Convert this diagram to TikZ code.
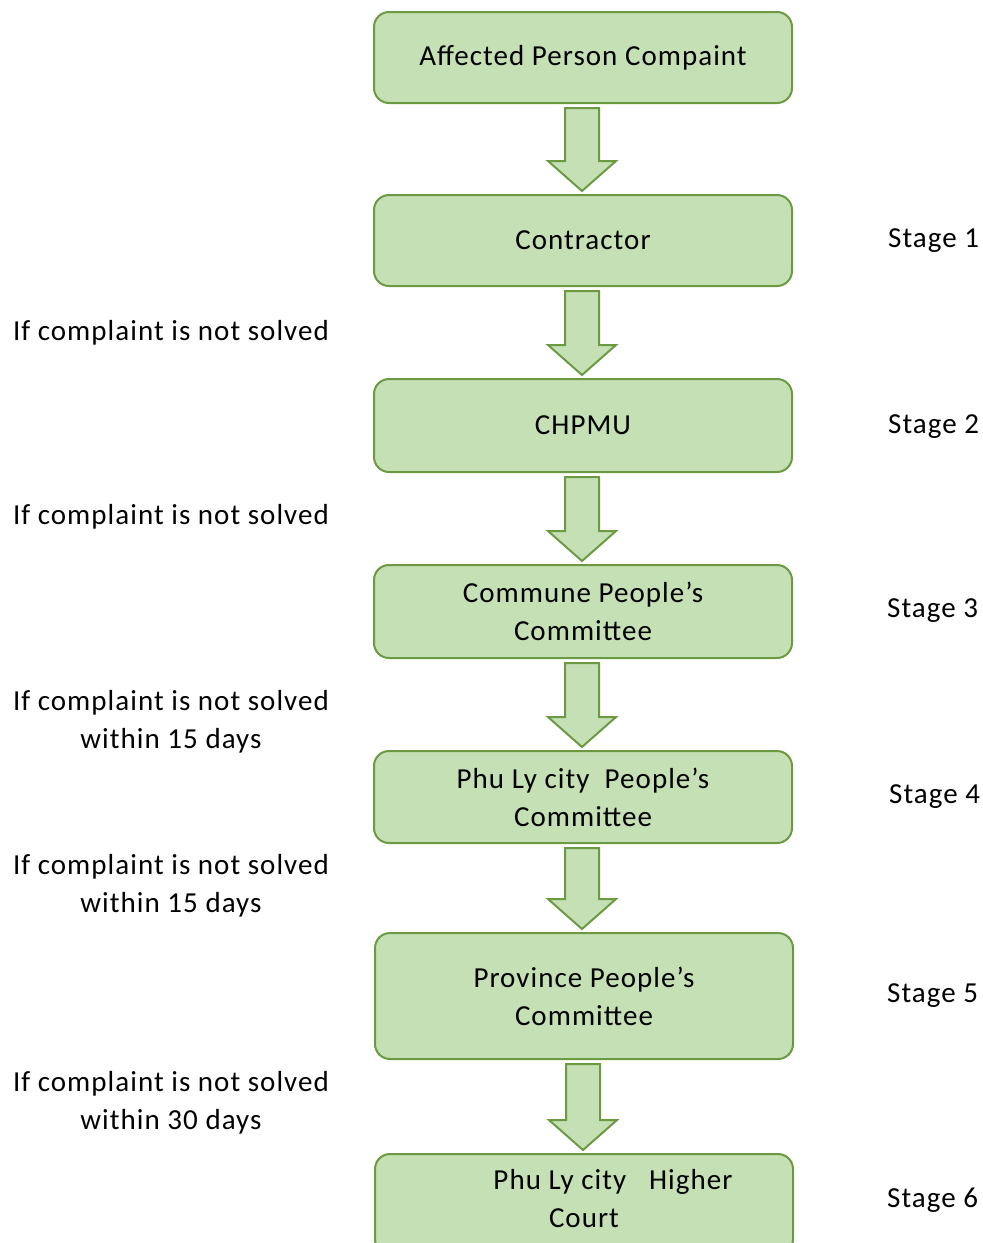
\documentclass[tikz,border=0pt]{standalone}
\usepackage{fontspec}
\setmainfont{Carlito}[LetterSpace=3.6]
\usetikzlibrary{calc}
\definecolor{boxfill}{RGB}{197,224,180}
\definecolor{boxline}{RGB}{108,154,66}
\tikzset{
  stagebox/.style={draw=boxline, fill=boxfill, line width=2pt, rounded corners=15pt,
    minimum width=418pt, align=center, inner sep=0pt, font=\fontsize{29}{38}\selectfont},
  lbl/.style={align=center, inner sep=0pt, font=\fontsize{29}{38}\selectfont},
  arr/.style={draw=boxline, fill=boxfill, line width=2pt, line join=miter}
}
\newcommand{\flowarrow}[2]{%
  \path[arr] let \p1=($(#1.south)+(-1pt,-4pt)$), \p2=($(#2.north)+(-1pt,3pt)$) in
    (\x1-17pt,\y1) -- (\x1+17pt,\y1) -- (\x1+17pt,\y2+30pt) -- (\x1+34pt,\y2+30pt)
    -- (\x1,\y2) -- (\x1-34pt,\y2+30pt) -- (\x1-17pt,\y2+30pt) -- cycle;}
\begin{document}
\begin{tikzpicture}[x=1pt,y=-1pt]
\useasboundingbox (0,0) rectangle (983,1243);
\node[stagebox, minimum height=91pt] (b0) at (583,57.5) {Affected Person Compaint};
\node[stagebox, minimum height=91pt] (b1) at (583,240.5) {Contractor};
\node[stagebox, minimum height=93pt] (b2) at (583,425.5) {CHPMU};
\node[stagebox, minimum height=93pt] (b3) at (583,611.5) {Commune People’s\\Committee};
\node[stagebox, minimum height=92pt] (b4) at (583,797) {Phu Ly city\ \ People’s\\Committee};
\node[stagebox, minimum height=126pt] (b5) at (584,996) {Province People’s\\Committee};
\node[stagebox, minimum height=100pt, anchor=north] (b6) at (584,1153) {};
\node[lbl] (b6t) at (584,1199) {\hspace*{58pt}Phu Ly city\ \ \ Higher\\Court};
\flowarrow{b0}{b1}
\flowarrow{b1}{b2}
\flowarrow{b2}{b3}
\flowarrow{b3}{b4}
\flowarrow{b4}{b5}
\flowarrow{b5}{b6}
\node[lbl, anchor=west] (s1) at (888,241) {Stage 1};
\node[lbl, anchor=west] (s2) at (888,427) {Stage 2};
\node[lbl, anchor=west] (s3) at (887,611) {Stage 3};
\node[lbl, anchor=west] (s4) at (889,797) {Stage 4};
\node[lbl, anchor=west] (s5) at (887,996) {Stage 5};
\node[lbl, anchor=west] (s6) at (887,1200) {Stage 6};
\node[lbl] (c1) at (171,333) {If complaint is not solved};
\node[lbl] (c2) at (171,517) {If complaint is not solved};
\node[lbl] (c3) at (171,722) {If complaint is not solved\\within 15 days};
\node[lbl] (c4) at (171,886) {If complaint is not solved\\within 15 days};
\node[lbl] (c5) at (171,1103) {If complaint is not solved\\within 30 days};
\end{tikzpicture}
\end{document}
